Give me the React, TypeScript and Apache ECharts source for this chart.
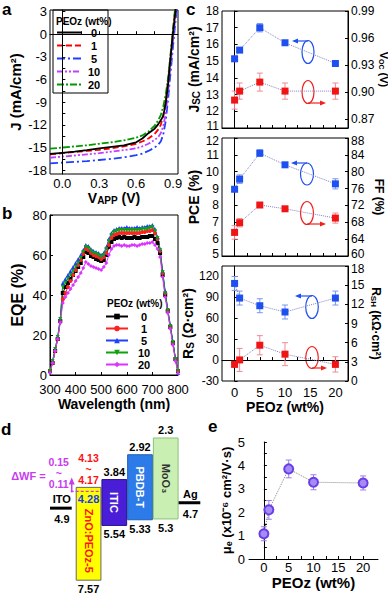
import React, { useEffect, useRef } from "react";
import * as echarts from "echarts";

const FONT = "'Liberation Sans', Arial, Helvetica, sans-serif";

// ---------- Panel a: J-V ----------
const jvVoltage = [-0.1, 0, 0.1, 0.2, 0.3, 0.4, 0.5, 0.6, 0.65, 0.7, 0.75, 0.78, 0.8, 0.82, 0.84, 0.86, 0.88, 0.9, 0.92, 0.94];
const jv0 = [-15.85, -15.7, -15.55, -15.35, -15.1, -14.9, -14.7, -14.3, -13.8, -13.1, -12.5, -11.9, -11.4, -10.8, -9.2, -6.5, -3.0, 0.3, 3.1, 6.0];
const jv1 = [-15.9, -15.75, -15.6, -15.45, -15.3, -15.1, -14.85, -14.5, -14.2, -13.8, -13.2, -12.6, -12.0, -10.8, -8.8, -6.0, -2.8, 0.5, 3.8, 7.0];
const jv5 = [-17.1, -17.0, -16.9, -16.8, -16.65, -16.5, -16.3, -16.0, -15.8, -15.45, -15.0, -14.6, -14.2, -13.3, -11.5, -8.5, -5.0, -1.5, 1.8, 5.0];
const jv10 = [-16.35, -16.2, -16.05, -15.9, -15.75, -15.55, -15.35, -15.1, -14.85, -14.5, -14.0, -13.6, -13.1, -12.2, -10.5, -7.5, -4.0, -0.8, 2.5, 6.0];
const jv20 = [-15.15, -15.0, -14.85, -14.7, -14.5, -14.3, -14.05, -13.7, -13.4, -12.9, -12.1, -11.4, -10.7, -9.6, -8.0, -5.7, -2.6, 0.7, 4.0, 7.0];
const jvXLabels = [0, 0.3, 0.6, 0.9];
const jvYLabels = [-18, -15, -12, -9, -6, -3, 0, 3];

// ---------- Panel b: EQE ----------
const eqeWavelength = [300, 310, 320, 330, 340, 350, 360, 370, 380, 390, 400, 410, 420, 430, 440, 450, 460, 470, 480, 490, 500, 510, 520, 530, 540, 550, 560, 570, 580, 590, 600, 610, 620, 630, 640, 650, 660, 670, 680, 690, 700, 710, 720, 730, 740, 750, 760, 770, 780, 790, 800];
const eqe0 = [2, 6, 12, 18, 27, 41, 44, 46, 48, 50, 52, 54, 56, 59, 61.5, 61, 59.5, 59, 58, 57.5, 57, 57.5, 60, 64, 66.5, 68, 68.5, 69, 68.5, 69, 68.5, 68.5, 68.5, 69, 68.5, 68.5, 69, 69, 69, 69.5, 69.5, 68, 66, 61, 50, 40, 32, 24, 16, 8, 2];
const eqe1 = [2, 6, 12, 18, 27, 38, 41, 44, 47, 50, 52.5, 55, 57.5, 60.5, 63, 62.5, 61, 60, 59.5, 59, 58, 59, 61, 65, 68.5, 70, 70.5, 71, 71, 71, 71, 71, 71, 71, 71, 71, 71.5, 71.5, 72, 72, 72.5, 71, 68, 62, 51, 41, 32, 24, 16, 8, 2];
const eqe5 = [2, 7, 13, 19, 28, 46, 48, 50, 52, 54, 56, 58, 60, 62.5, 65, 64.5, 63, 62, 61.5, 61, 60, 61, 64, 68, 71, 72.5, 73, 73.5, 73.5, 73.5, 74, 73.5, 73.5, 73.5, 74, 73.5, 74, 74, 74.5, 74.5, 75, 73, 69, 63, 52, 42, 33, 25, 17, 8, 1];
const eqe10 = [2, 7, 13, 19, 28, 44, 46, 48, 50, 52, 54, 56, 58.5, 61.5, 64, 63.5, 62, 61, 60.5, 60, 59, 60, 63, 67, 70, 71.5, 72, 72.5, 72.5, 72.5, 72.5, 72.5, 72.5, 72.5, 72.5, 72.5, 73, 73, 73, 73.5, 74, 72, 68.5, 62.5, 51.5, 41, 32.5, 24.5, 16.5, 8, 2];
const eqe20 = [1, 6, 12, 18, 26, 36, 39, 41, 43, 45, 47, 49, 51, 53.5, 56.5, 55.5, 54.5, 54, 53.5, 53, 52.5, 54, 56, 60, 63, 64.5, 65, 65, 64.5, 65, 64.5, 64.5, 65, 65, 64.5, 65, 65.5, 65.5, 66, 66, 66.5, 65, 63, 59, 49, 39, 31, 23, 15, 7, 1];

const peozNames = ["0", "1", "5", "10", "20"];

// ---------- Panel c ----------
const peoz = [0, 1, 5, 10, 20];
const jsc = [15.14, 15.66, 17.0, 16.1, 14.86];
const jscErr = [0.15, 0.1, 0.25, 0.08, 0.05];
const voc = [0.891, 0.901, 0.911, 0.901, 0.901];
const vocErr = [0.01, 0.009, 0.01, 0.009, 0.009];
const pce = [8.96, 9.56, 11.1, 10.41, 9.28];
const pceErr = [0.12, 0.25, 0.2, 0.12, 0.3];
const ff = [65.6, 67.9, 72.1, 71.2, 69.0];
const ffErr = [1.6, 1.0, 0.3, 0.3, 1.2];
const rs = [110, 89, 78, 69, 89];
const rsErr = [10, 10, 10, 10, 10];
const rsh = [2.6, 3.3, 5.6, 4.2, 2.6];
const rshErr = [0.3, 1.8, 1.5, 1.8, 1.2];

// ---------- Panel d: energy levels ----------
const layerNames = ["ITO", "ZnO:PEOz-5", "ITIC", "PBDB-T", "MoO₃", "Ag"];
const levelTop = [4.9, 4.13, 3.84, 2.92, 2.3, 4.7];
const levelBottom = [4.9, 7.57, 5.54, 5.33, 5.3, 4.7];
const znoWF = 4.28;
const znoShift = ["4.13", "4.17"];
const deltaWF = ["0.15", "0.11"];

// ---------- Panel e ----------
const mobility = [1.08, 2.1, 3.85, 3.28, 3.25];
const mobilityErr = [0.3, 0.4, 0.38, 0.32, 0.3];

const C_BLUE = "#1e4ff0";
const C_RED = "#f01414";
const C_BLUE_ERR = "#7a94f0";
const C_RED_ERR = "#f08a96";
const C_PURPLE = "#6a3ee6";

const bold = (size: number) => ({ fontFamily: FONT, fontSize: size, fontWeight: "bold" as const, color: "#000" });

const nameStyle = (size: number) => ({
  ...bold(size),
  lineHeight: size + 1,
  rich: {
    b: { ...bold(size), lineHeight: size + 1 },
    s: { ...bold(size - 4), verticalAlign: "bottom", lineHeight: 10 },
  },
});

const labelStyle = { color: "#000", fontSize: 13, fontFamily: FONT, margin: 3 };
const lineBlack = { show: true, lineStyle: { color: "#000", width: 1 } };

function errBar(color: string) {
  return (params: any, api: any) => {
    const x = api.value(0);
    const p1 = api.coord([x, api.value(1)]);
    const p2 = api.coord([x, api.value(2)]);
    const w = 3;
    const style = { stroke: color, lineWidth: 1 };
    return {
      type: "group",
      children: [
        { type: "line", shape: { x1: p1[0], y1: p1[1], x2: p2[0], y2: p2[1] }, style },
        { type: "line", shape: { x1: p1[0] - w, y1: p1[1], x2: p1[0] + w, y2: p1[1] }, style },
        { type: "line", shape: { x1: p2[0] - w, y1: p2[1], x2: p2[0] + w, y2: p2[1] }, style },
      ],
    };
  };
}

function pointSeries(name: string, xi: number, yi: number, vals: number[], color: string, symbol = "rect", size = 7) {
  return {
    type: "line",
    name,
    xAxisIndex: xi,
    yAxisIndex: yi,
    data: peoz.map((p, i) => [p, vals[i]]),
    symbol,
    symbolSize: size,
    itemStyle: { color },
    lineStyle: { color: "#8080c8", width: 1, type: "dotted" },
    z: 3,
  };
}
function errSeries(xi: number, yi: number, vals: number[], errs: number[], color: string) {
  return {
    type: "custom",
    xAxisIndex: xi,
    yAxisIndex: yi,
    data: peoz.map((p, i) => [p, vals[i] - errs[i], vals[i] + errs[i]]),
    renderItem: errBar(color),
    z: 2,
  };
}

const cTok = { fontFamily: FONT, fontSize: 12, color: "#000" };
const cLabel = {
  ...labelStyle,
  fontSize: 12,
  rich: {
    n: { ...cTok },
    up: { ...cTok, padding: [0, 0, 5, 0] },
    dn: { ...cTok, padding: [5, 0, 0, 0] },
  },
};

function cXAxis(grid: number, showLabels: boolean) {
  return {
    gridIndex: grid,
    type: "value",
    min: -2.5,
    max: 22.5,
    axisLine: lineBlack,
    splitLine: { show: false },
    axisTick: { show: true, inside: true, length: 3, customValues: [0, 2.5, 5, 7.5, 10, 12.5, 15, 17.5, 20], lineStyle: { color: "#000" } },
    axisLabel: { ...labelStyle, show: showLabels, margin: 5, customValues: [0, 5, 10, 15, 20] },
    ...(showLabels ? { name: "PEOz (wt%)", nameLocation: "middle", nameGap: 15, nameTextStyle: bold(14) } : {}),
  };
}

function yAx(grid: number, min: number, max: number, labels: number[], name: string, gap: number, right: boolean, digits = 0, up?: number, dn?: number, nameSize?: number) {
  return {
    gridIndex: grid,
    type: "value",
    position: right ? "right" : "left",
    min,
    max,
    axisLine: lineBlack,
    splitLine: { show: false },
    axisTick: { show: true, inside: true, length: 3, customValues: labels, lineStyle: { color: "#000" } },
    axisLabel: {
      ...cLabel,
      customValues: labels,
      formatter: (v: number) => {
        const s = v.toFixed(digits);
        if (up !== undefined && Math.abs(v - up) < 1e-9) return `{up|${s}}`;
        if (dn !== undefined && Math.abs(v - dn) < 1e-9) return `{dn|${s}}`;
        return `{n|${s}}`;
      },
    },
    name,
    nameLocation: "middle",
    nameGap: gap,
    nameRotate: right ? -90 : 90,
    nameTextStyle: nameStyle(nameSize || (right ? 12 : 14)),
  };
}

function arrow(x1: number, y: number, x2: number, color: string) {
  const d = x2 < x1 ? 1 : -1;
  return [
    { type: "line", shape: { x1, y1: y, x2: x2 + d * 4, y2: y }, style: { stroke: color, lineWidth: 1.2 } },
    { type: "polygon", shape: { points: [[x2, y], [x2 + d * 6, y - 2.5], [x2 + d * 6, y + 2.5]] }, style: { fill: color } },
  ];
}
function ell(cx: number, cy: number, rx: number, ry: number, color: string) {
  return { type: "ellipse", shape: { cx, cy, rx, ry }, style: { fill: "none", stroke: color, lineWidth: 1.2 } };
}
function gtext(x: number, y: number, text: string, size: number, align = "center") {
  return { type: "text", x, y, style: { text, fill: "#000", fontFamily: FONT, fontSize: size, fontWeight: "bold", align, verticalAlign: "middle" } };
}

const boxFill = ["#000", "#ffff00", "#4a1ed6", "#2c7be8", "#c9f0b2", "#000"];
const boxStroke = ["#000", "#666", "#2a0f90", "#1d5fb8", "#8fbf7a", "#000"];
const nameFill = ["#000", "#ff1010", "#fff", "#fff", "#333", "#000"];
const MAG = "#c83cf0";

function renderLevels(params: any, api: any) {
  const i = params.dataIndex;
  const pT = api.coord([i, levelTop[i]]);
  const pB = api.coord([i, levelBottom[i]]);
  const cx = pT[0];
  const yT = pT[1];
  const yB = pB[1];
  const bw = api.size([1, 0])[0];
  const f = (text: string, x: number, y: number, fill = "#000", extra: any = {}, align = "center", vAlign = "middle", size = 11) => ({
    type: "text",
    x,
    y,
    ...extra,
    style: { text, fill, fontFamily: FONT, fontSize: size, fontWeight: "bold", align, verticalAlign: vAlign, lineHeight: size + 0.5 },
  });
  const ch: any[] = [];
  if (levelTop[i] === levelBottom[i]) {
    ch.push({ type: "line", shape: { x1: cx - bw / 2, y1: yT, x2: cx + bw / 2 - 4, y2: yT }, style: { stroke: "#000", lineWidth: 3 } });
    ch.push(f(layerNames[i], cx - 1, yT - 9));
    ch.push(f(String(levelTop[i]), cx - 1, yT + 11));
  } else {
    ch.push({ type: "rect", shape: { x: cx - bw / 2 + 0.5, y: yT, width: bw - 1, height: yB - yT }, style: { fill: boxFill[i], stroke: boxStroke[i], lineWidth: 1 } });
    ch.push(f(String(levelBottom[i]), cx, yB + 9));
    let nameY = (yT + yB) / 2;
    if (i === 1) {
      const yW = api.coord([i, znoWF])[1];
      const left = cx - bw / 2;
      ch.push({ type: "line", shape: { x1: left - 5, y1: yW, x2: cx + bw / 2 - 1, y2: yW }, style: { stroke: MAG, lineWidth: 1.2, lineDash: [3, 2] } });
      ch.push(f(String(znoWF), cx, yW + 8, "#1a3ce8"));
      ch.push(f(`${znoShift[0]}\n~\n${znoShift[1]}`, cx, yT - 2, "#ff1010", {}, "center", "bottom", 10.5));
      ch.push(f("ΔWF =", left - 30, yW - 15, MAG, {}, "right"));
      ch.push(f(`${deltaWF[0]}\n~\n${deltaWF[1]}`, left - 17, yW - 2, MAG, {}, "center", "bottom", 10.5));
      ch.push({ type: "line", shape: { x1: left - 4, y1: yW + 1, x2: left - 4, y2: yW - 9 }, style: { stroke: MAG, lineWidth: 1.5 } });
      ch.push({ type: "polygon", shape: { points: [[left - 4, yW - 14], [left - 7, yW - 7], [left - 1, yW - 7]] }, style: { fill: MAG } });
      nameY = (yW + yB) / 2 + 5;
    } else {
      ch.push(f(String(levelTop[i]), cx, yT - 8));
    }
    ch.push(f(layerNames[i], cx, nameY, nameFill[i], { rotation: -Math.PI / 2 }));
  }
  return { type: "group", children: ch };
}

const legendRich = (w: number) => ({
  fontFamily: FONT,
  fontSize: 11,
  fontWeight: "bold",
  color: "#000",
  lineHeight: 10,
  rich: { c: { width: w, align: "center", fontFamily: FONT, fontSize: 11, fontWeight: "bold", color: "#000", lineHeight: 10 } },
});

const jvColors = ["#000000", "#ff0000", "#1f3fff", "#c040ff", "#009a00"];
const jvDash: any[] = ["solid", [6, 3], [8, 3, 2, 3], [6, 2, 2, 2, 2, 2], [7, 2, 2, 2]];
const jvData = [jv0, jv1, jv5, jv10, jv20];
const eqeData = [eqe0, eqe1, eqe5, eqe10, eqe20];
const eqeColors = ["#000000", "#ff2020", "#2040ff", "#10a010", "#dd33ff"];
const eqeSymbols = ["rect", "circle", "triangle", "triangle", "diamond"];
const eqeRot = [0, 0, 0, 180, 0];

const CL = 222;
const CW = 126;

const option: any = {
  animation: false,
  backgroundColor: "#fff",
  grid: [
    { left: 50, top: 10, width: 128, height: 164, show: true, borderColor: "#000", borderWidth: 1, outerBoundsMode: "none" },
    { left: 50, top: 215, width: 128, height: 160, show: true, borderColor: "#000", borderWidth: 1, outerBoundsMode: "none" },
    { left: CL, top: 11, width: CW, height: 117, show: true, borderColor: "#000", borderWidth: 1, outerBoundsMode: "none" },
    { left: CL, top: 138, width: CW, height: 118, show: true, borderColor: "#000", borderWidth: 1, outerBoundsMode: "none" },
    { left: CL, top: 266, width: CW, height: 115, show: true, borderColor: "#000", borderWidth: 1, outerBoundsMode: "none" },
    { left: 50, top: 429.9, width: 154.3, height: 156.5, show: false, outerBoundsMode: "none" },
    { left: 249, top: 442, width: 129, height: 117, show: false, outerBoundsMode: "none" },
  ],
  xAxis: [
    {
      gridIndex: 0, type: "value", min: -0.1, max: 0.94,
      axisLine: lineBlack, splitLine: { show: false },
      axisTick: { show: true, inside: true, length: 3, customValues: [0, 0.15, 0.3, 0.45, 0.6, 0.75, 0.9], lineStyle: { color: "#000" } },
      axisLabel: { ...labelStyle, margin: 3, customValues: jvXLabels, formatter: (v: number) => v.toFixed(1) },
      name: "{b|V}{s|APP}{b| (V)}", nameLocation: "middle", nameGap: 15, nameTextStyle: nameStyle(14),
    },
    {
      gridIndex: 1, type: "value", min: 300, max: 800, interval: 100,
      axisLine: lineBlack, splitLine: { show: false },
      axisTick: { show: true, inside: true, length: 3, lineStyle: { color: "#000" } },
      axisLabel: { ...labelStyle, margin: 8 },
      name: "Wavelength (nm)", nameLocation: "middle", nameGap: 20, nameTextStyle: bold(14),
    },
    cXAxis(2, false),
    cXAxis(3, false),
    cXAxis(4, true),
    { gridIndex: 5, type: "category", data: layerNames, show: false },
    {
      gridIndex: 6, type: "value", min: -3, max: 23,
      axisLine: lineBlack, splitLine: { show: false },
      axisTick: { show: true, inside: true, length: 3, customValues: [0, 2.5, 5, 7.5, 10, 12.5, 15, 17.5, 20], lineStyle: { color: "#000" } },
      axisLabel: { ...labelStyle, margin: 2, customValues: [0, 5, 10, 15, 20] },
      name: "PEOz (wt%)", nameLocation: "middle", nameGap: 11, nameTextStyle: bold(15),
    },
  ],
  yAxis: [
    {
      gridIndex: 0, type: "value", min: -18.5, max: 3.2,
      axisLine: lineBlack, splitLine: { show: false },
      axisTick: { show: true, inside: true, length: 3, customValues: [-18, -16.5, -15, -13.5, -12, -10.5, -9, -7.5, -6, -4.5, -3, -1.5, 0, 1.5, 3], lineStyle: { color: "#000" } },
      axisLabel: { ...labelStyle, customValues: jvYLabels },
      name: "J (mA/cm²)", nameLocation: "middle", nameGap: 27, nameTextStyle: bold(15),
    },
    {
      gridIndex: 1, type: "value", min: 0, max: 80, interval: 20,
      axisLine: lineBlack, splitLine: { show: false },
      axisTick: { show: true, inside: true, length: 3, lineStyle: { color: "#000" } },
      axisLabel: { ...labelStyle },
      name: "EQE (%)", nameLocation: "middle", nameGap: 25, nameTextStyle: bold(16),
    },
    yAx(2, 11, 18, [11, 12, 13, 14, 15, 16, 17, 18], "{b|J}{s|SC}{b| (mA/cm²)}", 21, false, 0, 11),
    yAx(2, 0.86, 0.99, [0.87, 0.9, 0.93, 0.96, 0.99], "{b|V}{s|OC}{b| (V)}", 23, true, 2, undefined, undefined, 11),
    yAx(3, 5, 12, [5, 6, 7, 8, 9, 10, 11, 12], "PCE (%)", 21, false, 0, 5, 12),
    yAx(3, 60, 88, [60, 64, 68, 72, 76, 80, 84, 88], "FF (%)", 24, true, 0, 60, 88),
    yAx(4, -30, 135, [-30, 0, 30, 60, 90, 120], "{b|R}{s|S}{b| (Ω·cm²)}", 22, false),
    yAx(4, 0, 18, [0, 3, 6, 9, 12, 15, 18], "{b|R}{s|SH}{b| (kΩ·cm²)}", 21, true, 0, undefined, 18),
    { gridIndex: 5, type: "value", inverse: true, min: 2.0, max: 7.8, show: false },
    {
      gridIndex: 6, type: "value", min: 0, max: 5,
      axisLine: lineBlack, splitLine: { show: false },
      axisTick: { show: true, inside: true, length: 3, customValues: [0, 0.5, 1, 1.5, 2, 2.5, 3, 3.5, 4, 4.5, 5], lineStyle: { color: "#000" } },
      axisLabel: { ...labelStyle, margin: 4, customValues: [0, 1, 2, 3, 4, 5] },
      name: "{b|μ}{s|e}{b| (x10⁻⁶ cm²/V·s)}", nameLocation: "middle", nameGap: 12, nameTextStyle: nameStyle(13),
    },
  ],
  legend: [
    {
      orient: "vertical", left: 53, top: 10, padding: [17, 6, 3, 3], itemWidth: 24, itemHeight: 10, itemGap: 2,
      borderColor: "#000", borderWidth: 1, selectedMode: false,
      itemStyle: { opacity: 0 },
      data: peozNames, formatter: (n: string) => `{c|${n}}`, textStyle: legendRich(16),
    },
    {
      orient: "vertical", left: 105, top: 311, padding: 0, itemWidth: 22, itemHeight: 7, itemGap: 1, selectedMode: false,
      data: peozNames.map((n) => "b" + n), formatter: (n: string) => `{c|${n.slice(1)}}`, textStyle: legendRich(22),
    },
  ],
  graphic: [
    gtext(2, 9, "a", 17, "left"),
    gtext(2, 213, "b", 17, "left"),
    gtext(186, 9, "c", 17, "left"),
    gtext(1, 429, "d", 17, "left"),
    gtext(208, 426, "e", 17, "left"),
    gtext(56, 21, "PEOz (wt%)", 10, "left"),
    gtext(107, 303, "PEOz (wt%)", 10, "left"),
    ell(308, 52, 6, 11.5, C_BLUE), ...arrow(308, 41, 292, C_BLUE),
    ell(308, 92, 6, 11.5, "#f02020"), ...arrow(308, 103, 326, "#f02020"),
    ell(307, 174, 6.5, 11, C_BLUE), ...arrow(307, 163, 291, C_BLUE),
    ell(307, 213, 6.5, 11.5, "#f02020"), ...arrow(307, 224, 326, "#f02020"),
    ell(312, 307, 6.3, 11.5, C_BLUE), ...arrow(312, 296, 295, C_BLUE),
    ell(312, 357.5, 6.3, 11, "#f02020"), ...arrow(312, 368, 327, "#f02020"),
  ],
  series: [
    ...peozNames.map((n, k) => ({
      type: "line", name: n, xAxisIndex: 0, yAxisIndex: 0,
      data: jvVoltage.map((v, i) => [v, jvData[k][i]]),
      symbol: "none", clip: true,
      itemStyle: { color: jvColors[k] },
      lineStyle: { color: jvColors[k], width: 1.8, type: jvDash[k] },
      z: 3 + (k === 0 ? 1 : 0),
      ...(k === 0
        ? { markLine: { silent: true, symbol: "none", label: { show: false }, lineStyle: { color: "#000", width: 1, type: "solid" }, data: [{ yAxis: 0 }, { xAxis: 0 }] } }
        : {}),
    })),
    ...peozNames.map((n, k) => ({
      type: "line", name: "b" + n, xAxisIndex: 1, yAxisIndex: 1,
      data: eqeWavelength.map((w, i) => [w, eqeData[k][i]]),
      symbol: eqeSymbols[k], symbolRotate: eqeRot[k], symbolSize: 4,
      itemStyle: { color: eqeColors[k] },
      lineStyle: { color: eqeColors[k], width: 1 },
    })),
    errSeries(2, 2, jsc, jscErr, C_BLUE_ERR),
    pointSeries("Jsc", 2, 2, jsc, C_BLUE),
    errSeries(2, 3, voc, vocErr, C_RED_ERR),
    pointSeries("Voc", 2, 3, voc, C_RED),
    errSeries(3, 4, pce, pceErr, C_BLUE_ERR),
    pointSeries("PCE", 3, 4, pce, C_BLUE),
    errSeries(3, 5, ff, ffErr, C_RED_ERR),
    pointSeries("FF", 3, 5, ff, C_RED),
    errSeries(4, 6, rs, rsErr, C_BLUE_ERR),
    pointSeries("Rs", 4, 6, rs, C_BLUE),
    errSeries(4, 7, rsh, rshErr, C_RED_ERR),
    pointSeries("Rsh", 4, 7, rsh, C_RED),
    {
      type: "custom", xAxisIndex: 5, yAxisIndex: 8,
      data: layerNames.map((n, i) => [i, levelTop[i], levelBottom[i]]),
      renderItem: renderLevels,
    },
    errSeries(6, 9, mobility, mobilityErr, "#9a80e8"),
    {
      type: "line", name: "mu", xAxisIndex: 6, yAxisIndex: 9,
      data: peoz.map((p, i) => [p, mobility[i]]),
      symbol: "circle", symbolSize: 9,
      itemStyle: { color: "#a58cf5", borderColor: C_PURPLE, borderWidth: 2 },
      lineStyle: { color: "#888", width: 1, type: "dotted" },
      z: 3,
    },
  ],
};

export default function App() {
  const ref = useRef<HTMLDivElement>(null);
  useEffect(() => {
    const chart = echarts.init(ref.current!, null, { renderer: "svg" });
    chart.setOption(option);
    return () => chart.dispose();
  }, []);
  return <div ref={ref} style={{ position: "absolute", left: 0, top: 0, width: 388, height: 596 }} />;
}
